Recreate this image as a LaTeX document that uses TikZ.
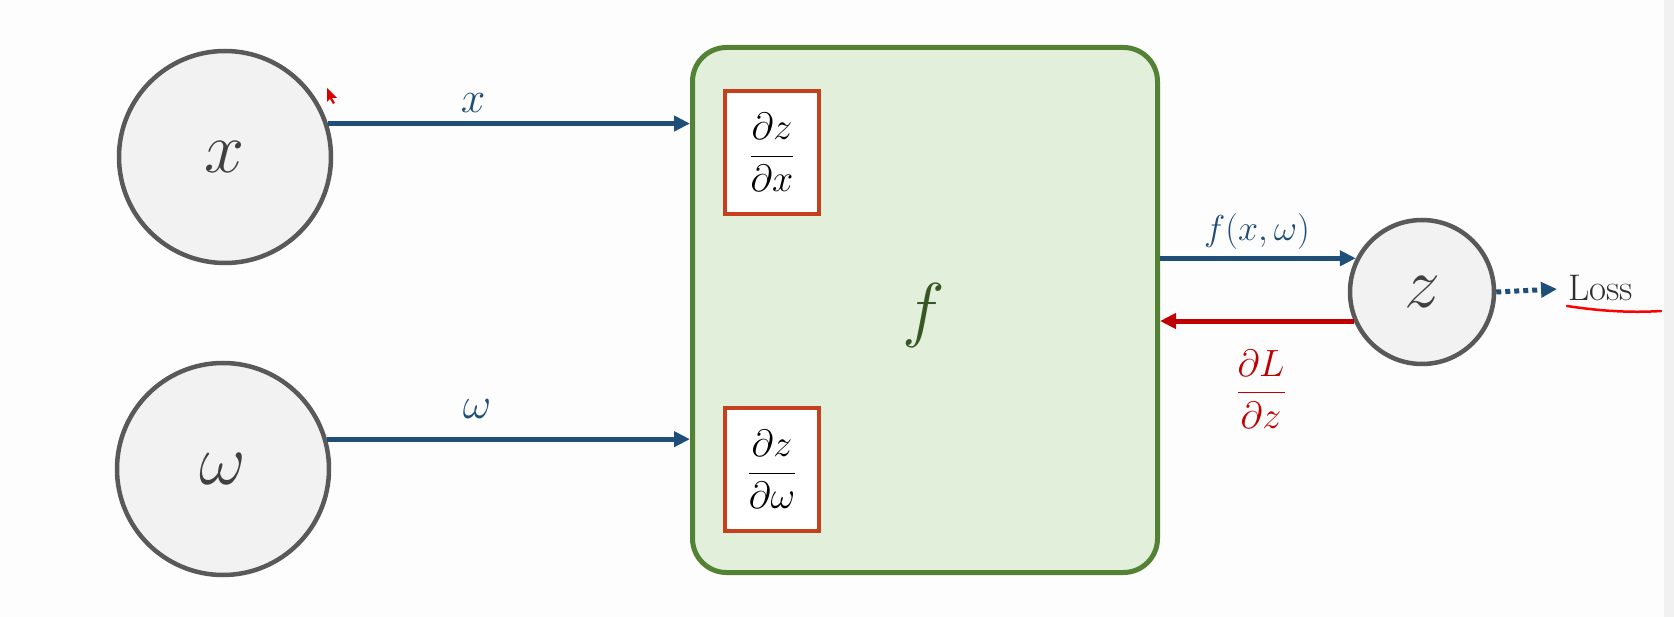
\RequirePackage{fix-cm}
\documentclass[tikz,border=0pt]{standalone}
\usepackage{amsmath}
\usetikzlibrary{arrows.meta}
\definecolor{cfill}{HTML}{F2F2F2}
\definecolor{cline}{HTML}{595959}
\definecolor{gfill}{HTML}{E2EFDA}
\definecolor{gline}{HTML}{548235}
\definecolor{rbox}{HTML}{C5401C}
\definecolor{blu}{HTML}{1F4E79}
\definecolor{rd}{HTML}{C00000}
\definecolor{ftext}{HTML}{375623}
\definecolor{txt}{HTML}{404040}
\definecolor{losstxt}{HTML}{303030}
\definecolor{bg}{HTML}{FDFDFD}
\definecolor{strip}{HTML}{F1F1F1}
\begin{document}
\begin{tikzpicture}[x=1pt,y=-1pt,
  var/.style={circle, draw=cline, fill=cfill, line width=4.5pt, text=txt,
    font=\fontsize{72}{80}\selectfont, inner sep=0pt},
  fn/.style={draw=gline, fill=gfill, line width=5pt, rounded corners=34pt,
    inner sep=0pt, minimum width=465pt, minimum height=525pt},
  deriv/.style={draw=rbox, fill=white, line width=4pt, inner sep=0pt,
    minimum width=94pt, minimum height=123pt, font=\fontsize{38}{44}\selectfont},
  fwd/.style={draw=blu, line width=5pt, -{Triangle[length=16pt,width=15pt]}},
  bwd/.style={draw=rd, line width=5pt, -{Triangle[length=16pt,width=15pt]}},
  dotarrow/.style={draw=blu, line width=5pt, dash pattern=on 5pt off 4pt,
    -{Triangle[length=16pt,width=15pt]}},
  lbl/.style={text=blu, inner sep=0pt},
]
% canvas
\fill[bg] (0,0) rectangle (1674,617);
\fill[strip] (1664,0) rectangle (1674,617);
\useasboundingbox (0,0) rectangle (1674,617);

% main function box
\node[fn] (F) at (925,310) {};
\node[text=ftext, font=\fontsize{72}{80}\selectfont, inner sep=0pt] (fl) at (924,316) {$f$};
\node[deriv] (dx) at (772,152.5) {$\displaystyle\frac{\partial z}{\partial x}$};
\node[deriv] (dw) at (772,469.5) {$\displaystyle\frac{\partial z}{\partial \omega}$};

% variables
\node[var, minimum size=212pt] (xc) at (225,157) {$x$};
\node[var, minimum size=212pt] (wc) at (223,469) {$\omega$};
\node[var, minimum size=144pt] (zc) at (1422,292) {$z$};

% forward arrows
\draw[fwd] (xc.18) -- (xc.18 -| F.west);
\draw[fwd] (wc.16.4) -- (wc.16.4 -| F.west);
\node[lbl, font=\fontsize{44}{50}\selectfont] (xl) at (473,103) {$x$};
\node[lbl, font=\fontsize{44}{50}\selectfont] (wl) at (477,409) {$\omega$};

\draw[fwd] (zc.153.6 -| F.east) -- (zc.153.6);
\node[lbl, font=\fontsize{36}{42}\selectfont] (fxw) at (1257,232) {$f(x,\omega)$};

\draw[bwd] (zc.203) -- (zc.203 -| F.east);
\node[text=rd, inner sep=0pt, font=\fontsize{38}{44}\selectfont] (dLz) at (1261,389) {$\displaystyle\frac{\partial L}{\partial z}$};

% loss
\node[anchor=base west, inner sep=0pt, text=losstxt, font=\fontsize{37}{42}\selectfont] (loss) at (1568,301) {Loss};
\draw[dotarrow, shorten >=11pt] (zc.east) -- (loss.west);
\draw[red, line width=2.5pt, line cap=round] (1567,306) .. controls (1600,311) and (1630,313) .. (1661,311);

% cursor
\fill[red!85!black] (327,88) -- (327,102) -- (330,99) -- (333,104) -- (335,103) -- (332,98) -- (337,98) -- cycle;
\end{tikzpicture}
\end{document}
